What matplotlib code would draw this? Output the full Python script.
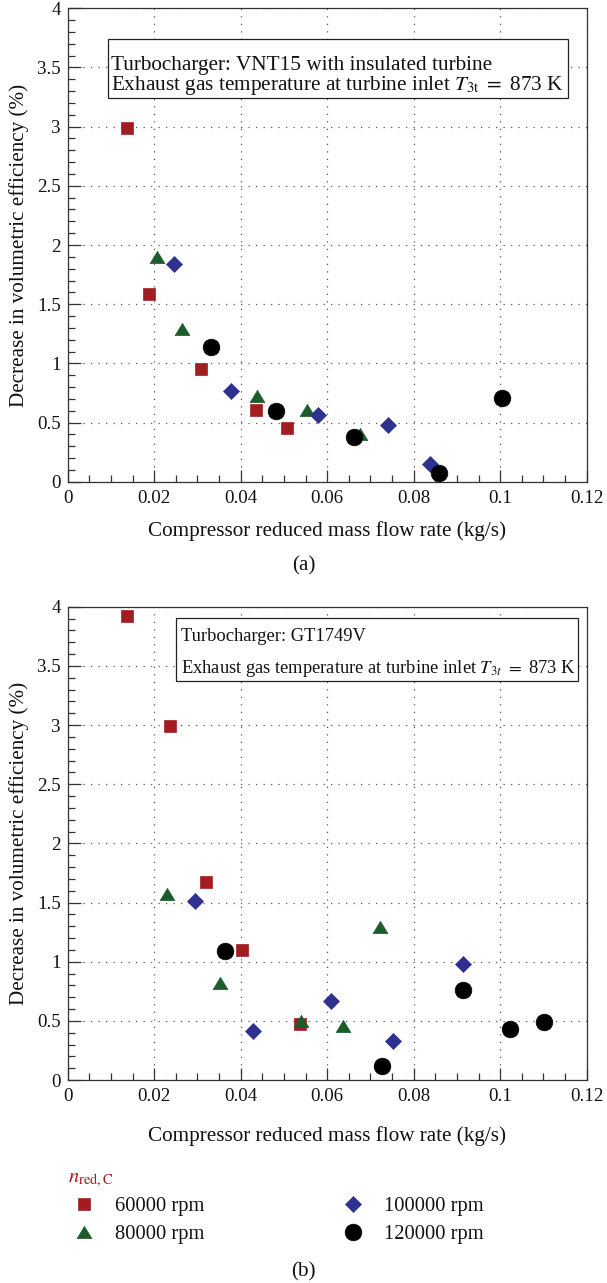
import matplotlib
matplotlib.use('Agg')
import matplotlib.pyplot as plt
from matplotlib.ticker import MultipleLocator, FuncFormatter
from matplotlib.patches import Rectangle
from matplotlib.lines import Line2D
from matplotlib.path import Path

plt.rcParams['font.family'] = ['Liberation Serif', 'DejaVu Serif']
plt.rcParams['mathtext.fontset'] = 'stix'

# ---------------- data ----------------
series_labels = ['60000 rpm', '80000 rpm', '100000 rpm', '120000 rpm']

# panel (a): VNT15 with insulated turbine
a60_x = [0.0136, 0.0187, 0.0309, 0.0435, 0.0508]
a60_y = [2.99, 1.59, 0.95, 0.61, 0.45]
a80_x = [0.0206, 0.0264, 0.0438, 0.0553, 0.0675]
a80_y = [1.90, 1.29, 0.72, 0.61, 0.40]
a100_x = [0.0245, 0.0378, 0.0579, 0.0741, 0.0838]
a100_y = [1.84, 0.77, 0.56, 0.475, 0.15]
a120_x = [0.0331, 0.0482, 0.0661, 0.0859, 0.1004]
a120_y = [1.14, 0.60, 0.38, 0.07, 0.71]

# panel (b): GT1749V
b60_x = [0.0136, 0.0237, 0.0320, 0.0404, 0.0537]
b60_y = [3.92, 2.99, 1.67, 1.10, 0.47]
b80_x = [0.0229, 0.0353, 0.0540, 0.0636, 0.0721]
b80_y = [1.57, 0.82, 0.50, 0.455, 1.295]
b100_x = [0.0294, 0.0429, 0.0608, 0.0753, 0.0913]
b100_y = [1.51, 0.415, 0.67, 0.33, 0.98]
b120_x = [0.0364, 0.0726, 0.0913, 0.1023, 0.1101]
b120_y = [1.09, 0.115, 0.76, 0.43, 0.49]

xlabel = 'Compressor reduced mass flow rate (kg/s)'
ylabel = 'Decrease in volumetric efficiency (%)'
box_a = ['Turbocharger: VNT15 with insulated turbine',
         r'Exhaust gas temperature at turbine inlet $T_{3\mathrm{t}}\ =\ $873 K']
box_b = ['Turbocharger: GT1749V',
         r'Exhaust gas temperature at turbine inlet $T_{3t}\ =\ $873 K']

# ---------------- styles ----------------
RED = '#A11D22'
GREEN = '#1C5C2C'
BLUE = '#2E3190'
BLACK = '#000000'
tri = Path([(0, 0.83), (-1, -0.83), (1, -0.83), (0, 0.83)],
           [Path.MOVETO, Path.LINETO, Path.LINETO, Path.CLOSEPOLY])
styles = [
    dict(marker='s', ms=9.3, color=RED),
    dict(marker=tri, ms=10.6, color=GREEN),
    dict(marker='D', ms=8.0, color=BLUE),
    dict(marker='o', ms=12.0, color=BLACK),
]

W, H = 607, 1283
fig = plt.figure(figsize=(W / 100, H / 100), dpi=100)
renderer = fig.canvas.get_renderer()


def fit_size(s, target_px, base=10.0):
    t = fig.text(0, 0, s, fontsize=base)
    w = t.get_window_extent(renderer).width
    t.remove()
    return base * target_px / w


tick_fs = fit_size('0.12', 33)
label_fs = fit_size(xlabel, 356)
leg_fs = fit_size('60000 rpm', 89)
boxa_fs = fit_size(box_a[1], 453)
boxb_fs = fit_size(box_b[1], 394)

L, R = 67.7, 586.7


def make_axes(top_px, bottom_px):
    return fig.add_axes([L / W, 1 - bottom_px / H, (R - L) / W, (bottom_px - top_px) / H])


ax_a = make_axes(8.3, 481.7)
ax_b = make_axes(606.7, 1080.1)

fmt = FuncFormatter(lambda v, p: '%g' % round(v, 4))

panels = [
    (ax_a, [(a60_x, a60_y), (a80_x, a80_y), (a100_x, a100_y), (a120_x, a120_y)], box_a, boxa_fs,
     (0.0784, 0.8105, 0.9634 - 0.0784, 0.9360 - 0.8105, 0.0834, [0.8855, 0.8435]), -0.083),
    (ax_b, [(b60_x, b60_y), (b80_x, b80_y), (b100_x, b100_y), (b120_x, b120_y)], box_b, boxb_fs,
     (0.2092, 0.8439, 0.9842 - 0.2092, 0.9753 - 0.8439, 0.2183, [0.9403, 0.8748]), -0.097),
]

for ax, data, box, bfs, box_geom, xl_y in panels:
    for (xs, ys), st in zip(data, styles):
        ax.plot(xs, ys, ls='none', marker=st['marker'], ms=st['ms'],
                color=st['color'], mec=st['color'], mew=0.5, zorder=3, clip_on=False)
    ax.set_xlim(0, 0.12)
    ax.set_ylim(0, 4)
    ax.xaxis.set_major_locator(MultipleLocator(0.02))
    ax.xaxis.set_minor_locator(MultipleLocator(0.005))
    ax.yaxis.set_major_locator(MultipleLocator(0.5))
    ax.yaxis.set_minor_locator(MultipleLocator(0.1))
    ax.xaxis.set_major_formatter(fmt)
    ax.yaxis.set_major_formatter(fmt)
    ax.tick_params(which='both', direction='in', top=False, right=False,
                   color='#333333', width=0.9, labelsize=tick_fs, labelcolor='#111111')
    ax.tick_params(which='major', length=9, pad=5)
    ax.tick_params(which='minor', length=5.3)
    ax.tick_params(axis='x', which='major', pad=6)
    for sp in ax.spines.values():
        sp.set_color('#333333')
        sp.set_linewidth(0.9)
    ax.grid(True, which='major', linestyle=(0, (1, 5)), color='#555555', lw=0.9)
    ax.set_axisbelow(True)
    ax.set_xlabel(xlabel, fontsize=label_fs, color='#111111')
    ax.set_ylabel(ylabel, fontsize=label_fs, color='#111111')
    ax.xaxis.set_label_coords(0.5, xl_y)
    ax.yaxis.set_label_coords(-0.074, 0.5)
    bx, by, bw, bh, tx, tys = box_geom
    ax.add_patch(Rectangle((bx, by), bw, bh, transform=ax.transAxes, fill=True,
                           facecolor='white', edgecolor='#222222', lw=0.9, zorder=4))
    for line, ty in zip(box, tys):
        ax.text(tx, ty, line, transform=ax.transAxes, fontsize=bfs, ha='left',
                va='center_baseline', color='#111111', zorder=5)

fig.text(303.5 / W, 1 - 566 / H, '(a)', fontsize=label_fs, ha='center', va='center', color='#111111')
fig.text(303.5 / W, 1 - 1272 / H, '(b)', fontsize=label_fs, ha='center', va='center', color='#111111')

# ---------------- legend ----------------
handles = [Line2D([], [], ls='none', marker=st['marker'], ms=st['ms'], color=st['color'],
                  mec=st['color'], mew=0.5) for st in styles]
fs_px = leg_fs * 100 / 72
t = fig.text(0, 0, series_labels[0], fontsize=leg_fs)
tw = t.get_window_extent(renderer).width
t.remove()
handle_w = 31.0
text_pad = 115 - 68 - handle_w
col2_left = 352.7 - handle_w / 2
colspace = (col2_left - (68 + handle_w + text_pad + tw)) / fs_px
borderpad = 0.4
leg = fig.legend(handles, series_labels, loc='upper left',
                 bbox_to_anchor=((68 - borderpad * fs_px) / W, 1 - (1168 - borderpad * fs_px) / H),
                 ncol=2, frameon=False, title=r'$n_{\mathrm{red,C}}$', alignment='left',
                 fontsize=leg_fs, title_fontsize=leg_fs, handlelength=handle_w / fs_px,
                 handletextpad=text_pad / fs_px, columnspacing=colspace,
                 labelspacing=0.4, borderpad=borderpad, borderaxespad=0)
leg.get_title().set_color(RED)
for txt in leg.get_texts():
    txt.set_color('#111111')

fig.savefig('out.png', dpi=100)
